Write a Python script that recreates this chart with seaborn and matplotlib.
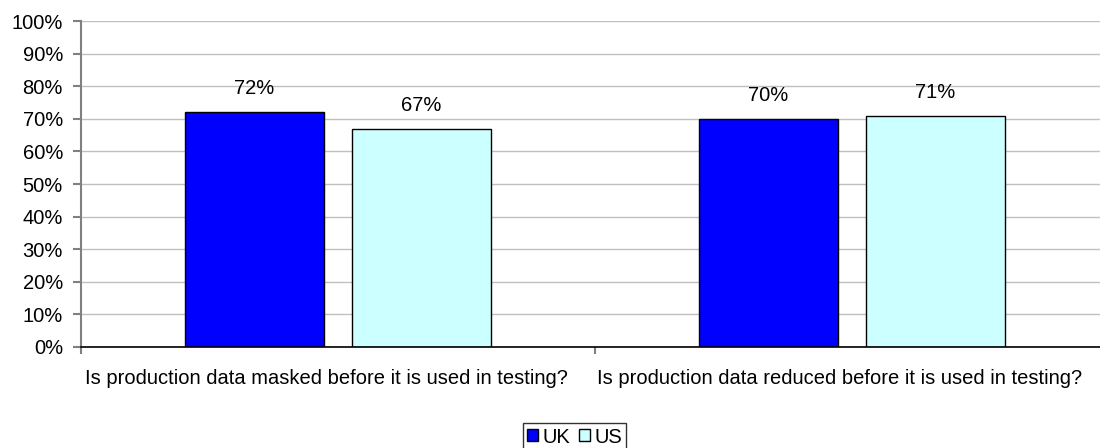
import matplotlib
matplotlib.use("Agg")
import matplotlib.pyplot as plt
import matplotlib.ticker as mticker
import matplotlib.transforms as mtransforms
import seaborn as sns
import pandas as pd

# Survey results (percent answering "yes")
questions = [
    "Is production data masked before it is used in testing?",
    "Is production data reduced before it is used in testing?",
]
countries = ["UK", "US"]
uk_values = [72, 70]
us_values = [67, 71]
palette = {"UK": "#0000FF", "US": "#CCFFFF"}

df = pd.DataFrame({
    "question": questions * 2,
    "country": ["UK"] * len(questions) + ["US"] * len(questions),
    "value": uk_values + us_values,
})

sns.set_theme(style="white")
plt.rcParams["font.family"] = ["Liberation Sans", "DejaVu Sans"]
plt.rcParams["text.color"] = "black"
FS = 14.5

fig = plt.figure(figsize=(11, 4.48), dpi=100)
ax = fig.add_axes([81 / 1100, 1 - 347 / 448, 1028 / 1100, 326 / 448])

sns.barplot(data=df, x="question", y="value", hue="country",
            hue_order=countries, palette=palette, saturation=1,
            width=0.65, gap=0.17, edgecolor="black", linewidth=1.0,
            ax=ax, legend=True)

for container in ax.containers:
    ax.bar_label(container, labels=[f"{v:.0f}%" for v in container.datavalues],
                 padding=10, fontsize=FS, color="black")

ax.set_ylim(0, 100)
ax.set_xlim(-0.5, 1.5)
ax.yaxis.set_major_locator(mticker.MultipleLocator(10))
ax.yaxis.set_major_formatter(mticker.FuncFormatter(lambda v, p: f"{v:.0f}%"))
ax.grid(axis="y", color="#C0C0C0", linewidth=1.0)
ax.set_axisbelow(True)

ax.set_xlabel("")
ax.set_ylabel("")

# Category labels sit between boundary ticks
ax.set_xticks([0, 1])
ax.set_xticklabels(questions)
ax.set_xticks([-0.5, 0.5, 1.5], minor=True)
ax.tick_params(axis="x", which="major", length=0, pad=16, labelsize=FS,
               labelcolor="black")
ax.tick_params(axis="x", which="minor", length=5, width=1.5, color="#808080",
               direction="out", bottom=True)
ax.tick_params(axis="y", length=6, width=1.5, color="#808080", direction="out",
               left=True, labelsize=FS, pad=7, labelcolor="black")

# nudge the long category labels slightly left
shift = mtransforms.ScaledTranslation(-12 / 100, 0, fig.dpi_scale_trans)
for lbl in ax.get_xticklabels():
    lbl.set_transform(lbl.get_transform() + shift)

for side in ("top", "right"):
    ax.spines[side].set_visible(False)
ax.spines["left"].set_color("#808080")
ax.spines["left"].set_linewidth(1.5)
ax.spines["bottom"].set_color("black")
ax.spines["bottom"].set_linewidth(1.2)

leg = ax.legend(loc="center", bbox_to_anchor=(574.5 / 1100, 1 - 437 / 448),
                bbox_transform=fig.transFigure, ncol=2, frameon=True,
                fancybox=False, edgecolor="black", fontsize=FS,
                handlelength=0.55, handleheight=0.55, handletextpad=0.25,
                columnspacing=0.4, borderpad=0.2, borderaxespad=0)
leg.get_frame().set_linewidth(1.0)
for h in leg.legend_handles:
    h.set_edgecolor("black")
for t in leg.get_texts():
    t.set_color("black")

fig.savefig("out.png", dpi=100)
